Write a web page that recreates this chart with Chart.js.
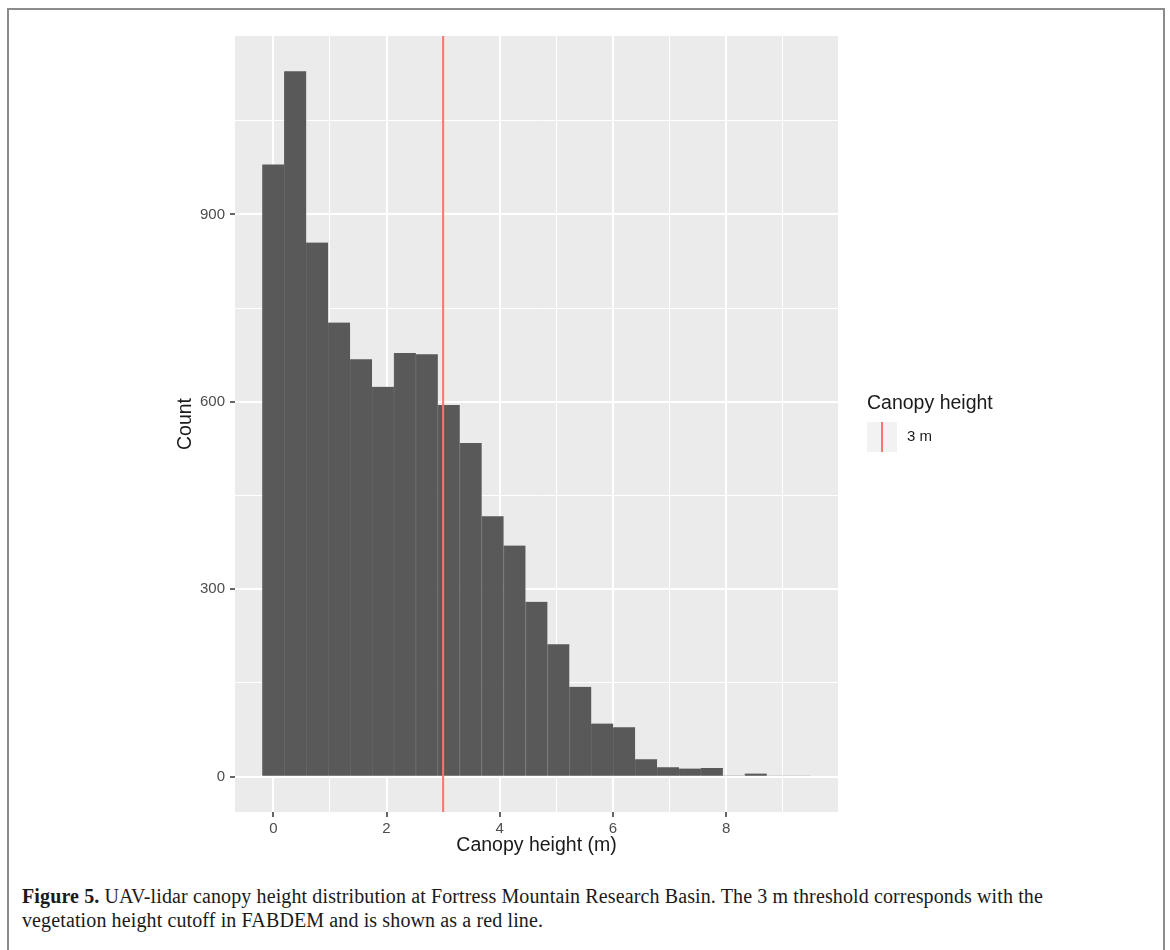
<!DOCTYPE html>
<html>
<head>
<meta charset="utf-8">
<script src="https://cdn.jsdelivr.net/npm/chart.js@4/dist/chart.umd.min.js"></script>
<style>
  html, body { margin: 0; padding: 0; background: #ffffff; width: 1170px; height: 950px; overflow: hidden; }
  #frame { position: absolute; left: 7px; top: 8px; width: 1158px; height: 1000px; box-sizing: border-box; border: 2px solid #8c8c8c; }
  #plot { position: absolute; left: 0; top: 0; }
  #caption { position: absolute; left: 22px; top: 884px; width: 1130px; font-family: "Liberation Serif", "DejaVu Serif", serif; font-size: 20px; letter-spacing: 0.12px; line-height: 24px; color: #1a1a1a; white-space: nowrap; }
  #caption b { font-weight: bold; }
</style>
</head>
<body>
<div id="frame"></div>
<canvas id="plot" width="1170" height="870"></canvas>
<div id="caption">
  <div><b>Figure 5.</b> UAV-lidar canopy height distribution at Fortress Mountain Research Basin. The 3 m threshold corresponds with the</div>
  <div>vegetation height cutoff in FABDEM and is shown as a red line.</div>
</div>
<script>
// Histogram bins (centre of each bin, metres) and their counts
const binCenters = [0, 0.3875, 0.775, 1.1625, 1.55, 1.9375, 2.325, 2.7125, 3.1, 3.4875,
                    3.875, 4.2625, 4.65, 5.0375, 5.425, 5.8125, 6.2, 6.5875, 6.975, 7.3625,
                    7.75, 8.1375, 8.525, 8.9125, 9.3];
const counts = [980, 1129, 855, 727, 668, 624, 678, 676, 595, 534,
                417, 370, 280, 212, 144, 85, 79, 28, 15, 13,
                14, 2, 5, 1, 1];

// Vegetation height cutoff
const threshold = 3;
const thresholdLabel = '3 m';
const legendTitle = 'Canopy height';

// Axis ranges, grid lines and labelled ticks
const xRange = [-0.678, 9.978];
const yRange = [-56.45, 1185.45];
const xGrid = [0, 1, 2, 3, 4, 5, 6, 7, 8, 9];
const xLabelled = [0, 2, 4, 6, 8];
const yGrid = [0, 150, 300, 450, 600, 750, 900, 1050];
const yLabelled = [0, 300, 600, 900];

const FONT = '"Liberation Sans", Arial, sans-serif';
const PANEL_BG = '#EBEBEB';
const BAR_FILL = '#595959';
const LINE_RED = '#F8766D';
const TITLE_SIZE = 19.5;

const panelBackground = {
  id: 'panelBackground',
  beforeDraw(chart) {
    const { ctx, chartArea: a } = chart;
    ctx.save();
    ctx.fillStyle = PANEL_BG;
    ctx.fillRect(a.left, a.top, a.right - a.left, a.bottom - a.top);
    ctx.restore();
  }
};

const thresholdLine = {
  id: 'thresholdLine',
  afterDatasetsDraw(chart) {
    const { ctx, chartArea: a, scales } = chart;
    const x = scales.x.getPixelForValue(threshold);
    ctx.save();
    ctx.strokeStyle = LINE_RED;
    ctx.lineWidth = 2;
    ctx.beginPath();
    ctx.moveTo(x, a.top);
    ctx.lineTo(x, a.bottom);
    ctx.stroke();
    ctx.restore();
  }
};

const sideLegend = {
  id: 'sideLegend',
  afterDraw(chart) {
    const { ctx } = chart;
    const left = 867, keyTop = 422, key = 30;
    ctx.save();
    ctx.fillStyle = '#1a1a1a';
    ctx.font = TITLE_SIZE + 'px ' + FONT;
    ctx.textBaseline = 'middle';
    ctx.textAlign = 'left';
    ctx.fillText(legendTitle, left, 404);
    ctx.fillStyle = '#F2F2F2';
    ctx.fillRect(left, keyTop, key, key);
    ctx.strokeStyle = LINE_RED;
    ctx.lineWidth = 2;
    ctx.beginPath();
    ctx.moveTo(left + key / 2, keyTop);
    ctx.lineTo(left + key / 2, keyTop + key);
    ctx.stroke();
    ctx.fillStyle = '#1a1a1a';
    ctx.font = '15px ' + FONT;
    ctx.fillText(thresholdLabel, left + key + 10, keyTop + key / 2);
    ctx.restore();
  }
};

const isLabelled = (list) => (c) => c.tick && list.includes(c.tick.value);

new Chart(document.getElementById('plot'), {
  type: 'bar',
  data: {
    datasets: [{
      label: 'Count',
      data: binCenters.map((x, i) => ({ x, y: counts[i] })),
      backgroundColor: BAR_FILL,
      borderColor: '#656565',
      borderWidth: { left: 1, right: 0, top: 0, bottom: 0 },
      borderSkipped: false,
      barPercentage: 1,
      categoryPercentage: 1
    }]
  },
  options: {
    responsive: false,
    animation: false,
    devicePixelRatio: 1,
    layout: { padding: { top: 36, right: 332, bottom: 0, left: 0 } },
    plugins: { legend: { display: false }, tooltip: { enabled: false } },
    scales: {
      x: {
        type: 'linear',
        offset: false,
        min: xRange[0],
        max: xRange[1],
        afterBuildTicks(s) { s.ticks = xGrid.map(v => ({ value: v })); },
        afterFit(s) { s.height = 58; },
        ticks: {
          autoSkip: false,
          maxRotation: 0,
          padding: 3,
          color: '#4D4D4D',
          font: { family: FONT, size: 15 },
          callback: (v) => xLabelled.includes(v) ? String(v) : ''
        },
        grid: {
          offset: false,
          color: '#FFFFFF',
          lineWidth: (c) => isLabelled(xLabelled)(c) ? 2 : 1,
          tickColor: (c) => isLabelled(xLabelled)(c) ? '#333333' : 'rgba(0,0,0,0)',
          tickWidth: 1.5,
          tickLength: 5
        },
        border: { display: false },
        title: {
          display: true,
          text: 'Canopy height (m)',
          color: '#1a1a1a',
          font: { family: FONT, size: TITLE_SIZE },
          padding: { top: 0, bottom: 12.3 }
        }
      },
      y: {
        type: 'linear',
        min: yRange[0],
        max: yRange[1],
        afterBuildTicks(s) { s.ticks = yGrid.map(v => ({ value: v })); },
        afterFit(s) { s.width = 235; },
        ticks: {
          autoSkip: false,
          padding: 5,
          color: '#4D4D4D',
          font: { family: FONT, size: 15 },
          callback: (v) => yLabelled.includes(v) ? String(v) : ''
        },
        grid: {
          color: '#FFFFFF',
          lineWidth: (c) => isLabelled(yLabelled)(c) ? 2 : 1,
          tickColor: (c) => isLabelled(yLabelled)(c) ? '#333333' : 'rgba(0,0,0,0)',
          tickWidth: 1.5,
          tickLength: 5
        },
        border: { display: false },
        title: {
          display: true,
          text: 'Count',
          color: '#1a1a1a',
          font: { family: FONT, size: TITLE_SIZE },
          padding: { top: 174.3, bottom: 0 }
        }
      }
    }
  },
  plugins: [panelBackground, thresholdLine, sideLegend]
});
</script>
</body>
</html>
